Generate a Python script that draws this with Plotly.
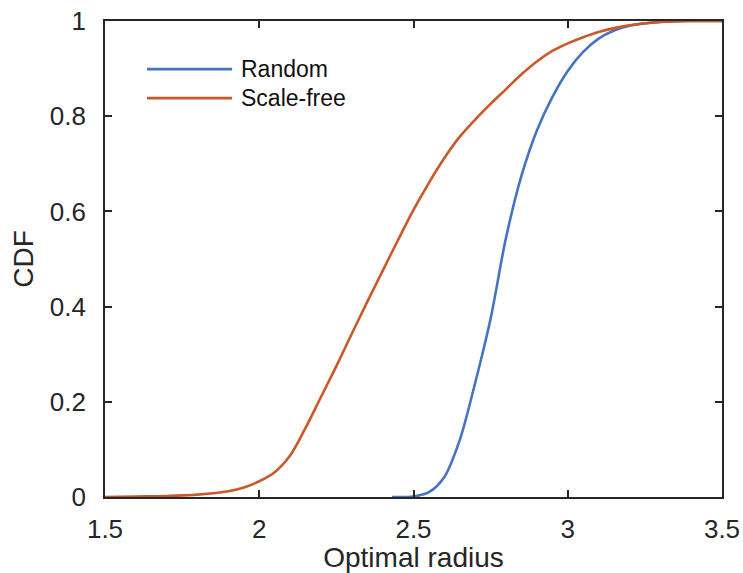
import plotly.graph_objects as go

# Data
sf_r = [1.5, 1.6, 1.7, 1.8, 1.9, 1.95, 2.0, 2.05, 2.1, 2.15, 2.2, 2.25, 2.3, 2.35, 2.4, 2.45, 2.5,
        2.55, 2.6, 2.65, 2.7, 2.75, 2.8, 2.85, 2.9, 2.95, 3.0, 3.05, 3.1, 3.15, 3.2, 3.3, 3.4, 3.5]
sf_cdf = [0.0, 0.001, 0.002, 0.005, 0.012, 0.02, 0.033, 0.052, 0.087, 0.145, 0.21, 0.275, 0.343,
          0.41, 0.475, 0.54, 0.603, 0.66, 0.712, 0.757, 0.793, 0.826, 0.857, 0.888, 0.915, 0.937,
          0.953, 0.966, 0.977, 0.985, 0.991, 0.998, 1.0, 1.0]

rd_r = [2.43, 2.5, 2.55, 2.6, 2.65, 2.7, 2.75, 2.8, 2.85, 2.9, 2.95, 3.0, 3.05, 3.1, 3.15, 3.2,
        3.3, 3.4, 3.5]
rd_cdf = [0.0, 0.001, 0.01, 0.042, 0.12, 0.24, 0.375, 0.545, 0.675, 0.77, 0.84, 0.895, 0.935,
          0.963, 0.98, 0.99, 0.998, 1.0, 1.0]

x_ticks = [1.5, 2, 2.5, 3, 3.5]
x_labels = ["1.5", "2", "2.5", "3", "3.5"]
y_ticks = [0, 0.2, 0.4, 0.6, 0.8, 1]
y_labels = ["0", "0.2", "0.4", "0.6", "0.8", "1"]

series_names = ["Random", "Scale-free"]
series_colors = ["#4773c3", "#c9582a"]

fig = go.Figure()
fig.add_trace(go.Scatter(x=rd_r, y=rd_cdf, mode="lines", name=series_names[0],
                         line=dict(color=series_colors[0], width=2.6, shape="spline", smoothing=0.9),
                         showlegend=False))
fig.add_trace(go.Scatter(x=sf_r, y=sf_cdf, mode="lines", name=series_names[1],
                         line=dict(color=series_colors[1], width=2.6, shape="spline", smoothing=0.9),
                         showlegend=False))

axis_color = "#262626"
font_family = "Liberation Sans, Arial, Helvetica, sans-serif"

fig.update_layout(
    width=743, height=573,
    margin=dict(l=105, r=21, t=21, b=76),
    paper_bgcolor="white", plot_bgcolor="white",
    font=dict(family=font_family, color=axis_color),
    xaxis=dict(range=[1.5, 3.5], tickvals=x_ticks, ticktext=x_labels, automargin=False,
               ticks="inside", ticklen=7, tickwidth=1.5, tickcolor=axis_color,
               showline=True, linecolor=axis_color, linewidth=1.8, mirror="ticks",
               showgrid=False, zeroline=False, tickfont=dict(size=26), ticklabelstandoff=8,
               title=dict(text="Optimal radius", font=dict(size=28), standoff=7)),
    yaxis=dict(range=[0, 1], tickvals=y_ticks, ticktext=y_labels, automargin=False,
               ticks="inside", ticklen=7, tickwidth=1.5, tickcolor=axis_color,
               showline=True, linecolor=axis_color, linewidth=1.8, mirror="ticks",
               showgrid=False, zeroline=False, tickfont=dict(size=26), ticklabelstandoff=12,
               title=dict(text="CDF", font=dict(size=28), standoff=8)),
)

# Manual legend (long line samples like the reference)
legend_y = [0.899, 0.838]
for name, col, ly in zip(series_names, series_colors, legend_y):
    fig.add_shape(type="line", xref="paper", yref="paper", x0=0.068, x1=0.206, y0=ly, y1=ly,
                  line=dict(color=col, width=2.6))
    fig.add_annotation(xref="paper", yref="paper", x=0.217, y=ly, text=name, showarrow=False,
                       xanchor="left", yanchor="middle", font=dict(size=23, color="#111111"))

fig.write_html("out.html")
